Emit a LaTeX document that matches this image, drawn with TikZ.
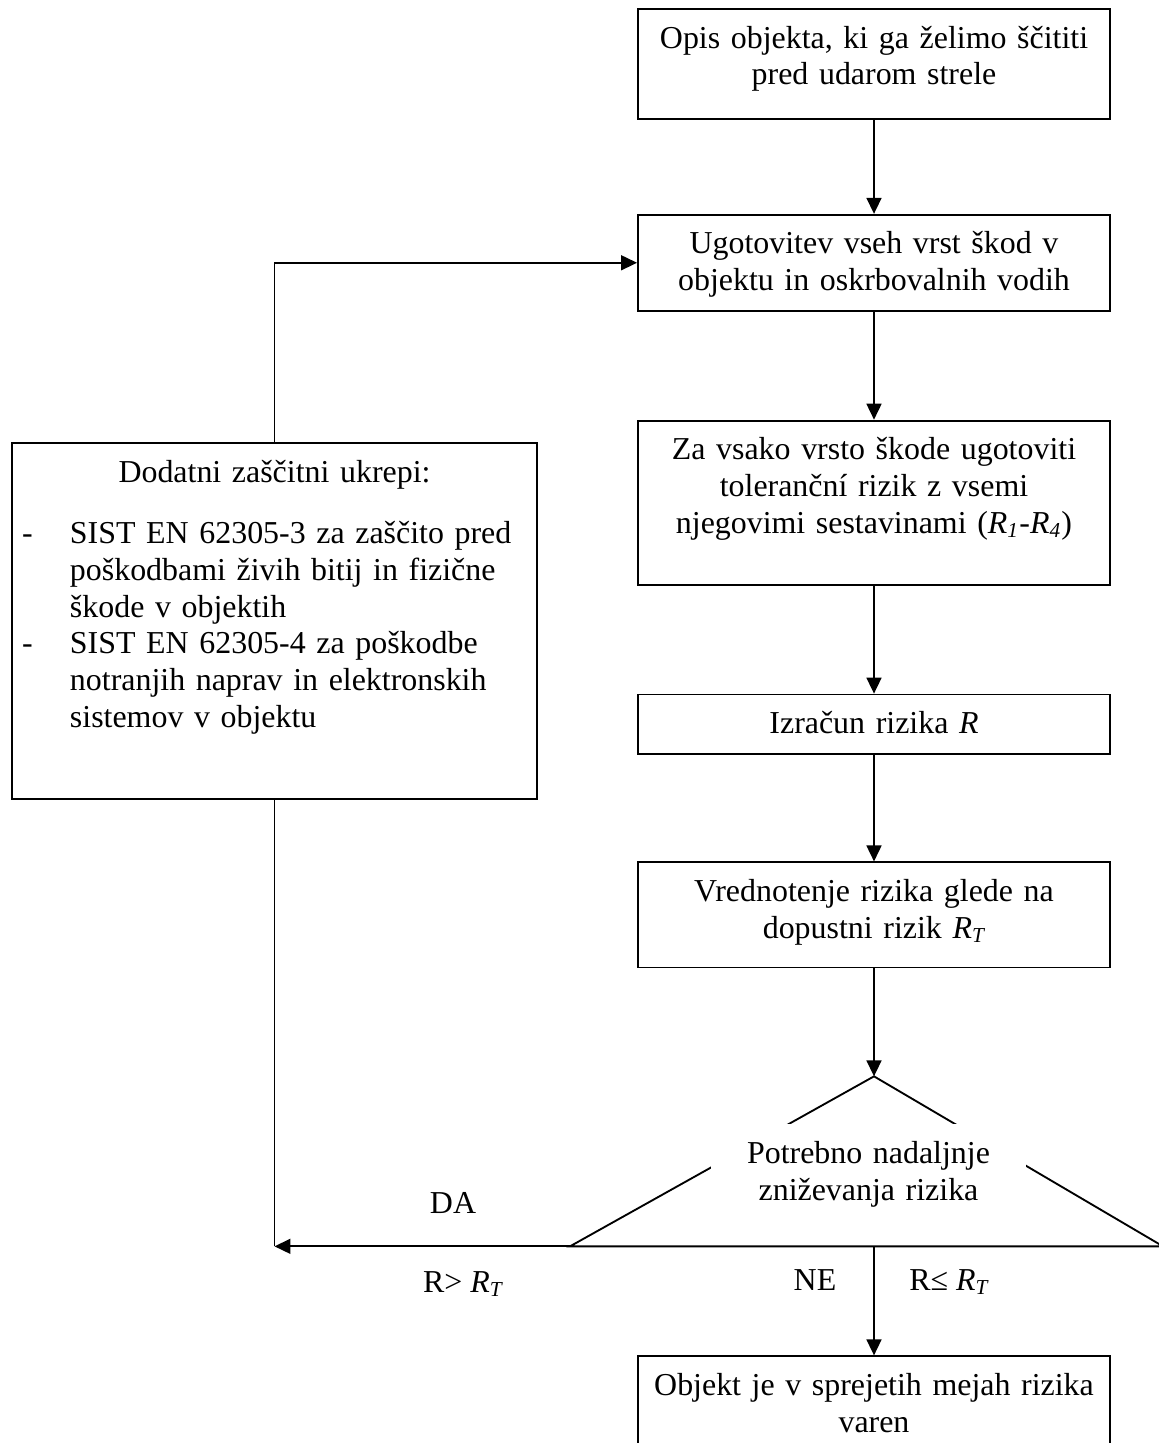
\documentclass[tikz,border=0pt]{standalone}
\usepackage{fontspec}
\setmainfont{Liberation Serif}
\usepackage{tikz}
\usetikzlibrary{arrows.meta,positioning}
\newcommand{\rizikT}{\textit{R\textsubscript{T}}}

\begin{document}
\begin{tikzpicture}[x=0.376pt, y=-0.376pt, line width=0.7pt, >={Triangle[length=6pt,width=5.6pt]},
        font=\fontsize{12pt}{13.8pt}\selectfont,
        korak/.style={draw, rectangle, inner sep=0pt, text width=177.5pt, align=center, text height=14.7pt},
        seznam/.style={draw, rectangle, inner sep=0pt, text width=197.4pt, text height=15pt, text depth=118.8pt}]
        \useasboundingbox (0,0) rectangle (1158,1443);

        \node[korak, text depth=26.7pt, anchor=north] (k_1) at (874,8) {Opis objekta, ki ga želimo ščititi\\ pred udarom strele};
        \node[korak, text depth=21.4pt] (k_2) [below=35.3pt of k_1] {Ugotovitev vseh vrst škod v\\ objektu in oskrbovalnih vodih};
        \node[korak, text depth=47.0pt] (k_3) [below=40.6pt of k_2] {Za vsako vrsto škode ugotoviti\\ toleranční rizik z vsemi\\ njegovimi sestavinami (\textit{R\textsubscript{1}}-\textit{R\textsubscript{4}})};
        \node[korak, text depth=7.5pt]  (k_4) [below=40.6pt of k_3] {Izračun rizika \textit{R}};
        \node[korak, text depth=24.8pt] (k_5) [below=40.2pt of k_4] {Vrednotenje rizika glede na\\ dopustni rizik \rizikT};

        % odlocitev
        \coordinate (vrh)  at ([yshift=-40.6pt]k_5.south);
        \coordinate (triL) at ([shift={(-304,170)}]vrh);
        \coordinate (triR) at ([shift={(289,170)}]vrh);
        \coordinate (triM) at ([shift={(0,170)}]vrh);
        \draw[line join=miter] (triL) -- (vrh) -- (triR) -- cycle;
        \node[fill=white, inner sep=0pt, text width=118.4pt, align=center, text height=15pt, text depth=21.5pt, anchor=north] (odl) at (868.5,1123) {Potrebno nadaljnje\\ zniževanja rizika};

        \node[korak, text depth=24.8pt, anchor=north] (k_6) at ([yshift=-41pt]triM) {Objekt je v sprejetih mejah rizika\\ varen};

        \node[seznam, anchor=north] (ukrepi) at (274.5,442) {{\centering Dodatni zaščitni ukrepi:\par}\vspace{9.1pt}%
            \hangindent=21.8pt\hangafter=1\noindent\makebox[21.8pt][l]{\hspace{3.8pt}-}SIST EN 62305-3 za zaščito pred\newline poškodbami živih bitij in fizične\newline škode v objektih\par
            \hangindent=21.8pt\hangafter=1\noindent\makebox[21.8pt][l]{\hspace{3.8pt}-}SIST EN 62305-4 za poškodbe\newline notranjih naprav in elektronskih\newline sistemov v objektu\par};

        \path[->]   (k_1)  edge (k_2)
                    (k_2)  edge (k_3)
                    (k_3)  edge (k_4)
                    (k_4)  edge (k_5)
                    (k_5)  edge (vrh)
                    (triM) edge (k_6);

        \coordinate (kot) at (ukrepi.south |- triL);
        \draw[->] (triL) -- (kot);
        \draw (kot) -- (ukrepi.south);
        \draw[->] (ukrepi.north) |- (k_2.west);

        \node[anchor=base] (da)   at (453,1213) {DA};
        \node[anchor=base] (vec)  at (463,1292) {R> \rizikT};
        \node[anchor=base] (ne)   at (815,1290) {NE};
        \node[anchor=base] (manj) at (949,1290) {R≤ \rizikT};
\end{tikzpicture}
\end{document}
